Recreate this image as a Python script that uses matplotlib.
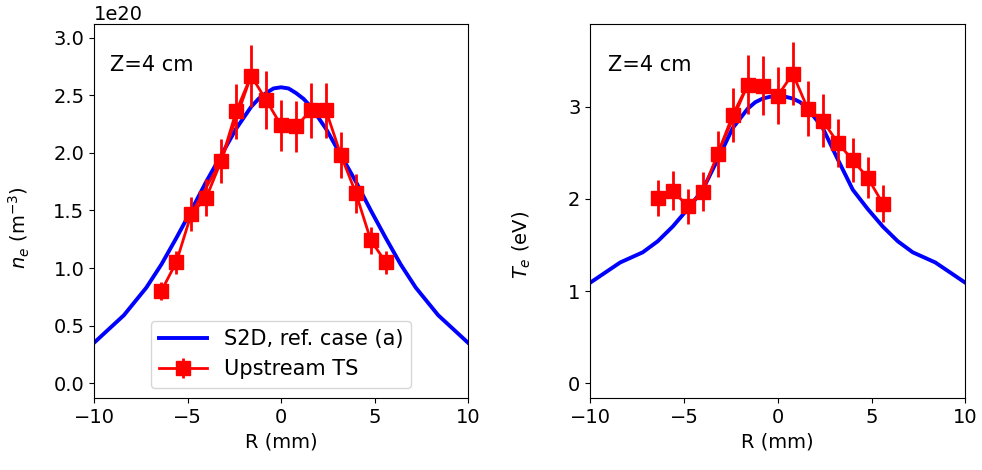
#!/usr/bin/env python3
"""S2D reference case vs upstream Thomson scattering profiles at Z=4 cm."""
import matplotlib
matplotlib.use("Agg")
import matplotlib.pyplot as plt  # noqa: E402

# S2D simulation profiles (R in mm)
r_sim = [-10.0, -8.4, -7.2, -6.4, -5.6, -4.8, -4.0, -3.2, -2.4, -1.6, -1.2, -0.8,
         -0.4, 0.0, 0.4, 0.8, 1.2, 1.6, 2.4, 3.2, 4.0, 4.8, 5.6, 6.4, 7.2, 8.4, 10.0]
ne_sim = [0.35, 0.59, 0.83, 1.03, 1.26, 1.50, 1.75, 1.98, 2.21, 2.40, 2.47, 2.52,
          2.56, 2.57, 2.56, 2.52, 2.47, 2.40, 2.21, 1.98, 1.75, 1.50, 1.26, 1.03,
          0.83, 0.59, 0.35]
te_sim = [1.09, 1.31, 1.42, 1.54, 1.70, 1.89, 2.10, 2.43, 2.77, 2.98, 3.05, 3.09,
          3.11, 3.12, 3.11, 3.09, 3.05, 2.98, 2.77, 2.43, 2.10, 1.89, 1.70, 1.54,
          1.42, 1.31, 1.09]

# upstream TS measurements
r_ts = [-6.4, -5.6, -4.8, -4.0, -3.2, -2.4, -1.6, -0.8, 0.0, 0.8, 1.6, 2.4,
        3.2, 4.0, 4.8, 5.6]
ne_ts = [0.80, 1.05, 1.47, 1.61, 1.93, 2.36, 2.67, 2.46, 2.24, 2.23, 2.37, 2.37,
         1.98, 1.65, 1.24, 1.05]
ne_err = [0.08, 0.10, 0.15, 0.16, 0.19, 0.24, 0.27, 0.25, 0.22, 0.22, 0.24, 0.24,
          0.20, 0.17, 0.12, 0.10]
te_ts = [2.01, 2.09, 1.92, 2.08, 2.49, 2.91, 3.24, 3.23, 3.12, 3.36, 2.98, 2.85,
         2.61, 2.42, 2.23, 1.95]
te_err = [0.20, 0.21, 0.19, 0.21, 0.25, 0.29, 0.32, 0.32, 0.31, 0.34, 0.30, 0.29,
          0.26, 0.24, 0.22, 0.20]

# second (interleaved) channel trace visible in the raw plot
ne_skip = [2, 4, 6]
te_skip = [4, 6]

plt.rcParams["font.size"] = 14

fig = plt.figure(figsize=(9.82, 4.7), dpi=100)
ax1 = fig.add_axes([0.0957, 0.153, 0.381, 0.796])
ax2 = fig.add_axes([0.601, 0.153, 0.382, 0.796])

scale = 1e20
ax1.plot(r_sim, [v * scale for v in ne_sim], color="b", lw=2.8,
         label="S2D, ref. case (a)")
ax1.plot([r_ts[i] for i in ne_skip], [ne_ts[i] * scale for i in ne_skip],
         color="r", lw=2)
ax1.errorbar(r_ts, [v * scale for v in ne_ts], yerr=[e * scale for e in ne_err],
             color="r", lw=2, elinewidth=2, marker="s", ms=9.5,
             label="Upstream TS")
ax1.set_xlim(-10, 10)
ax1.set_ylim(-0.13 * scale, 3.12 * scale)
ax1.set_xticks([-10, -5, 0, 5, 10])
ax1.set_yticks([v * scale for v in [0, 0.5, 1.0, 1.5, 2.0, 2.5, 3.0]])
ax1.set_xlabel("R (mm)")
ax1.set_ylabel("$n_e$ (m$^{-3}$)")
ax1.yaxis.set_label_coords(-0.165, 0.455)
ax1.text(0.043, 0.89, "Z=4 cm", transform=ax1.transAxes, va="center",
         fontsize=15)
ax1.legend(loc="lower center", fontsize=15, handlelength=2.3)

ax2.plot(r_sim, te_sim, color="b", lw=2.8)
ax2.plot([r_ts[i] for i in te_skip], [te_ts[i] for i in te_skip],
         color="r", lw=2)
ax2.errorbar(r_ts, te_ts, yerr=te_err, color="r", lw=2, elinewidth=2,
             marker="s", ms=9.5)
ax2.set_xlim(-10, 10)
ax2.set_ylim(-0.163, 3.9)
ax2.set_xticks([-10, -5, 0, 5, 10])
ax2.set_yticks([0, 1, 2, 3])
ax2.set_xlabel("R (mm)")
ax2.set_ylabel("$T_e$ (eV)")
ax2.yaxis.set_label_coords(-0.152, 0.41)
ax2.text(0.048, 0.89, "Z=4 cm", transform=ax2.transAxes, va="center",
         fontsize=15)

fig.savefig("out.png", dpi=100)
